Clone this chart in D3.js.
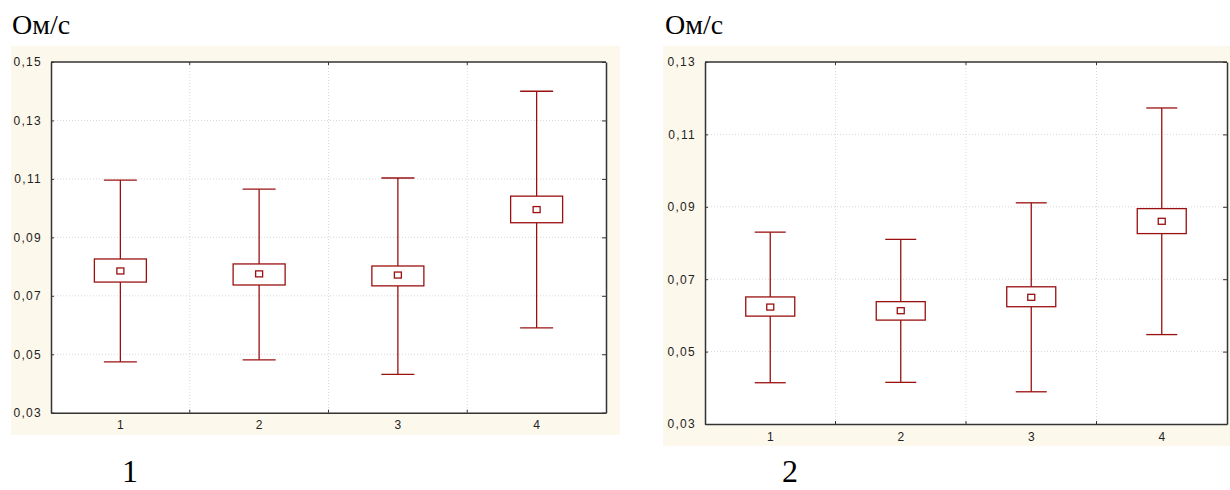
<!DOCTYPE html>
<html><head><meta charset="utf-8">
<script src="https://cdn.jsdelivr.net/npm/d3@7"></script>
<style>body{margin:0;background:#fff}svg{display:block}</style>
</head><body>
<svg id="c" width="1230" height="490"></svg>
<script>
const categories = ["1","2","3","4"];
// Chart 1
const c1WhiskLow = [0.0474, 0.0481, 0.0431, 0.0590];
const c1BoxLow   = [0.0747, 0.0737, 0.0734, 0.0950];
const c1Mean     = [0.0785, 0.0775, 0.0771, 0.0995];
const c1BoxHigh  = [0.0826, 0.0809, 0.0802, 0.1041];
const c1WhiskHigh= [0.1096, 0.1065, 0.1103, 0.1400];
const c1Ticks = [0.03,0.05,0.07,0.09,0.11,0.13,0.15];
// Chart 2
const c2WhiskLow = [0.0414, 0.0415, 0.0389, 0.0547];
const c2BoxLow   = [0.0598, 0.0587, 0.0624, 0.0826];
const c2Mean     = [0.0623, 0.0613, 0.0650, 0.0860];
const c2BoxHigh  = [0.0651, 0.0638, 0.0679, 0.0895];
const c2WhiskHigh= [0.0830, 0.0810, 0.0911, 0.1173];
const c2Ticks = [0.03,0.05,0.07,0.09,0.11,0.13];

const svg = d3.select("#c");
const fmt = d => d.toFixed(2).replace(".", ",");
const red = "#9a1010";

function chart(o){
  const g = svg.append("g");
  g.append("rect").attr("x",o.px).attr("y",o.py).attr("width",o.pw).attr("height",o.ph).attr("fill","#fdf8ec");
  g.append("rect").attr("x",o.l).attr("y",o.t).attr("width",o.r-o.l).attr("height",o.b-o.t).attr("fill","#fff");
  const x = d3.scaleBand().domain(categories).range([o.l,o.r]).paddingInner(0).paddingOuter(0);
  const y = d3.scaleLinear().domain([o.ticks[0], o.ticks[o.ticks.length-1]]).range([o.b,o.t]);
  // grid
  g.append("g").selectAll("line.h").data(o.ticks.slice(1,-1)).join("line")
    .attr("x1",o.l).attr("x2",o.r).attr("y1",d=>y(d)).attr("y2",d=>y(d))
    .attr("stroke","#cfcfcf").attr("stroke-width",0.8).attr("stroke-dasharray","1,2");
  g.append("g").selectAll("line.v").data(categories.slice(1)).join("line")
    .attr("x1",d=>x(d)).attr("x2",d=>x(d)).attr("y1",o.t).attr("y2",o.b)
    .attr("stroke","#cfcfcf").attr("stroke-width",0.8).attr("stroke-dasharray","1,2");
  // axes
  const yl = d3.axisLeft(y).tickValues(o.ticks).tickFormat(fmt).tickSizeInner(-3).tickSizeOuter(0).tickPadding(9);
  const ya = g.append("g").attr("transform",`translate(${o.l},0)`).call(yl);
  const yr = d3.axisRight(y).tickValues(o.ticks).tickFormat("").tickSizeInner(-4).tickSizeOuter(0);
  const yb = g.append("g").attr("transform",`translate(${o.r},0)`).call(yr);
  const xb = d3.axisBottom(x).tickSizeInner(0).tickSizeOuter(0).tickPadding(8);
  const xa = g.append("g").attr("transform",`translate(0,${o.b})`).call(xb);
  const edges = d3.scaleLinear().domain([0,4]).range([o.l,o.r]);
  g.append("g").selectAll("line").data([1,2,3]).join("line")
    .attr("x1",d=>edges(d)).attr("x2",d=>edges(d)).attr("y1",o.b).attr("y2",o.b-3).attr("stroke","#333");
  g.append("g").selectAll("line").data([1,2,3]).join("line")
    .attr("x1",d=>edges(d)).attr("x2",d=>edges(d)).attr("y1",o.t).attr("y2",o.t+3).attr("stroke","#333");
  g.append("line").attr("x1",o.l).attr("x2",o.r).attr("y1",o.t).attr("y2",o.t).attr("stroke","#333").attr("stroke-width",1.5);
  [ya,yb,xa].forEach(a=>{
    a.select(".domain").attr("stroke","#333").attr("stroke-width",1.5);
    a.selectAll(".tick line").attr("stroke","#333");
    a.selectAll("text").attr("font-family","Liberation Sans, Arial, sans-serif").attr("font-size",12).attr("fill","#222");
  });
  ya.selectAll("text").attr("letter-spacing","1.3px");
  // boxes
  const cx = d => x(d)+x.bandwidth()/2;
  const data = categories.map((c,i)=>({c,lo:o.wl[i],bl:o.bl[i],m:o.m[i],bh:o.bh[i],hi:o.wh[i]}));
  const gg = g.append("g").attr("stroke",red).attr("fill","none").attr("stroke-width",1.3);
  gg.selectAll("line.wu").data(data).join("line").attr("x1",d=>cx(d.c)).attr("x2",d=>cx(d.c)).attr("y1",d=>y(d.hi)).attr("y2",d=>y(d.bh));
  gg.selectAll("line.wd").data(data).join("line").attr("x1",d=>cx(d.c)).attr("x2",d=>cx(d.c)).attr("y1",d=>y(d.bl)).attr("y2",d=>y(d.lo));
  gg.selectAll("line.ch").data(data).join("line").attr("x1",d=>cx(d.c)-o.cap/2).attr("x2",d=>cx(d.c)+o.cap/2).attr("y1",d=>y(d.hi)).attr("y2",d=>y(d.hi));
  gg.selectAll("line.cl").data(data).join("line").attr("x1",d=>cx(d.c)-o.cap/2).attr("x2",d=>cx(d.c)+o.cap/2).attr("y1",d=>y(d.lo)).attr("y2",d=>y(d.lo));
  gg.selectAll("rect.b").data(data).join("rect").attr("x",d=>cx(d.c)-o.bw/2).attr("width",o.bw).attr("y",d=>y(d.bh)).attr("height",d=>y(d.bl)-y(d.bh)).attr("fill","#fff");
  gg.selectAll("rect.m").data(data).join("rect").attr("x",d=>cx(d.c)-3.5).attr("width",7).attr("y",d=>y(d.m)-3).attr("height",6).attr("fill","#fff");
  // titles
  svg.append("text").attr("x",o.tx).attr("y",34).text("Ом/с").attr("font-family","Liberation Serif, Times New Roman, serif").attr("font-size",28).attr("fill","#000");
  svg.append("text").attr("x",o.lx).attr("y",482).text(o.label).attr("text-anchor","middle").attr("font-family","Liberation Serif, Times New Roman, serif").attr("font-size",32).attr("fill","#000");
}

chart({px:11,py:46,pw:609,ph:389,l:51,r:606,t:62,b:412.7,ticks:c1Ticks,wl:c1WhiskLow,bl:c1BoxLow,m:c1Mean,bh:c1BoxHigh,wh:c1WhiskHigh,bw:52,cap:33,tx:12,lx:130,label:"1"});
chart({px:663,py:46,pw:567,ph:400,l:705,r:1227,t:62,b:424,ticks:c2Ticks,wl:c2WhiskLow,bl:c2BoxLow,m:c2Mean,bh:c2BoxHigh,wh:c2WhiskHigh,bw:49,cap:31,tx:665,lx:790,label:"2"});
</script>
</body></html>
